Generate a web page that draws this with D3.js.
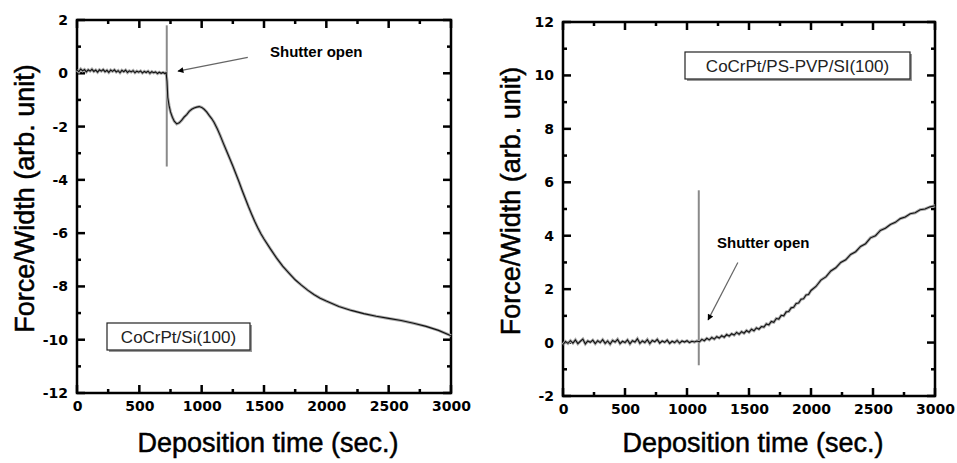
<!DOCTYPE html>
<meta charset="utf-8">
<title>Force/Width vs deposition time</title>
<style>

body {
  margin: 0;
  background: #fff;
}

.frame {
  fill: none;
  stroke: #000;
  stroke-width: 2.5px;
}

.domain {
  display: none;
}

.tick text {
  font: bold 14px "DejaVu Sans", sans-serif;
  fill: #000;
}

.title {
  font: 27px "Liberation Sans", Arial, sans-serif;
  fill: #000;
  stroke: #000;
  stroke-width: 0.5px;
}

.note {
  font: bold 15px "Liberation Sans", Arial, sans-serif;
  fill: #000;
}

.legend {
  font: 17px "Liberation Sans", Arial, sans-serif;
  fill: #222;
}

</style>
<body>
<script src="https://cdn.jsdelivr.net/npm/d3@7"></script>
<script>

// CoCrPt on Si(100): [time (s), force/width]
var siCurve = [
  [0, 0.12], [15, 0.06], [30, 0.16], [45, 0.09], [60, 0.14], [75, 0.05],
  [90, 0.13], [105, 0.08], [120, 0.15], [135, 0.07], [150, 0.12], [165, 0.04],
  [180, 0.13], [195, 0.08], [210, 0.14], [225, 0.06], [240, 0.11], [255, 0.03],
  [270, 0.12], [285, 0.07], [300, 0.13], [315, 0.05], [330, 0.1], [345, 0.02],
  [360, 0.11], [375, 0.06], [390, 0.12], [405, 0.03], [420, 0.09], [435, 0.05],
  [450, 0.1], [465, 0.02], [480, 0.08], [495, 0.04], [510, 0.09], [525, 0.01],
  [540, 0.07], [555, 0.03], [570, 0.08], [585, 0.0], [600, 0.06], [615, 0.02],
  [630, 0.05], [645, -0.01], [660, 0.04], [675, 0.0], [690, 0.03], [705, -0.01],
  [715, 0.02], [722, -0.3], [728, -0.9], [738, -1.2], [750, -1.45], [765, -1.65],
  [780, -1.8], [800, -1.9], [820, -1.86], [840, -1.76], [860, -1.64], [880, -1.55],
  [900, -1.43], [920, -1.35], [940, -1.3], [960, -1.27], [980, -1.25], [1000, -1.28],
  [1020, -1.35], [1040, -1.45], [1060, -1.58], [1080, -1.7], [1100, -1.85],
  [1125, -2.08], [1150, -2.35], [1175, -2.64], [1200, -2.92], [1225, -3.2],
  [1250, -3.48], [1275, -3.78], [1300, -4.08], [1325, -4.4], [1350, -4.7],
  [1375, -5.0], [1400, -5.28], [1425, -5.55], [1450, -5.8], [1475, -6.02],
  [1500, -6.22], [1550, -6.58], [1600, -6.93], [1650, -7.24], [1700, -7.5],
  [1750, -7.75], [1800, -7.95], [1850, -8.14], [1900, -8.3], [1950, -8.44],
  [2000, -8.55], [2100, -8.75], [2200, -8.9], [2300, -9.02], [2400, -9.12],
  [2500, -9.2], [2600, -9.28], [2700, -9.38], [2800, -9.5], [2900, -9.65], [3000, -9.85]
];

// CoCrPt on PS-PVP/Si(100)
var pvpCurve = [
  [0, -0.08], [20, 0.04], [40, -0.03], [60, 0.07], [80, -0.02], [100, 0.1],
  [120, -0.04], [140, 0.05], [160, 0.13], [180, -0.05], [200, 0.06], [220, 0.01],
  [240, 0.09], [260, -0.04], [280, 0.07], [300, 0.0], [320, 0.11], [340, -0.03],
  [360, 0.06], [380, -0.06], [400, 0.08], [420, 0.02], [440, 0.12], [460, -0.04],
  [480, 0.05], [500, 0.0], [520, 0.1], [540, -0.05], [560, 0.07], [580, 0.02],
  [600, 0.14], [620, -0.03], [640, 0.06], [660, 0.0], [680, 0.11], [700, -0.04],
  [720, 0.08], [740, 0.03], [760, 0.12], [780, -0.02], [800, 0.06], [820, 0.01],
  [840, 0.09], [860, -0.03], [880, 0.05], [900, 0.0], [920, 0.08], [940, -0.02],
  [960, 0.06], [980, 0.02], [1000, 0.07], [1020, 0.0], [1040, 0.05], [1060, 0.02],
  [1080, 0.06], [1100, 0.03], [1120, 0.12], [1140, 0.07], [1160, 0.16], [1180, 0.1],
  [1200, 0.19], [1220, 0.13], [1240, 0.22], [1260, 0.17], [1280, 0.26], [1300, 0.2],
  [1320, 0.3], [1340, 0.24], [1360, 0.33], [1380, 0.28], [1400, 0.38], [1420, 0.31],
  [1440, 0.41], [1460, 0.35], [1480, 0.45], [1500, 0.39], [1520, 0.5], [1540, 0.44],
  [1560, 0.55], [1580, 0.5], [1600, 0.6], [1620, 0.58], [1640, 0.7], [1660, 0.66],
  [1680, 0.79], [1700, 0.76], [1720, 0.9], [1740, 0.88], [1760, 1.02], [1780, 1.0],
  [1800, 1.15], [1820, 1.16], [1840, 1.3], [1860, 1.32], [1880, 1.46], [1900, 1.48],
  [1920, 1.62], [1940, 1.64], [1960, 1.78], [1980, 1.8], [2000, 1.95], [2040, 2.1],
  [2080, 2.34], [2120, 2.46], [2160, 2.68], [2200, 2.8], [2240, 3.0], [2280, 3.1],
  [2320, 3.3], [2360, 3.4], [2400, 3.6], [2440, 3.7], [2480, 3.92], [2520, 4.0],
  [2560, 4.2], [2600, 4.28], [2640, 4.42], [2680, 4.5], [2720, 4.64], [2760, 4.7],
  [2800, 4.82], [2840, 4.86], [2880, 4.97], [2920, 5.0], [2960, 5.08], [3000, 5.12]
];

var timeTicks = [0, 500, 1000, 1500, 2000, 2500, 3000],
    timeMinor = [250, 750, 1250, 1750, 2250, 2750],
    siTicks = [2, 0, -2, -4, -6, -8, -10, -12],
    siMinor = [1, -1, -3, -5, -7, -9, -11],
    pvpTicks = [12, 10, 8, 6, 4, 2, 0, -2],
    pvpMinor = [11, 9, 7, 5, 3, 1, -1];

// shutter marker: [time, from, to]; arrows: [tail t, tail f, head t, head f]
var siShutter = [720, 1.8, -3.5],
    pvpShutter = [1095, 5.7, -0.85],
    siArrow = [1370, 0.6, 810, 0.08],
    pvpArrow = [1410, 3.0, 1170, 0.85];

var width = 957,
    height = 463;

var svg = d3.select("body").append("svg")
    .attr("width", width)
    .attr("height", height);

svg.append("defs").append("marker")
    .attr("id", "head")
    .attr("viewBox", "0 0 10 10")
    .attr("refX", 9)
    .attr("refY", 5)
    .attr("markerWidth", 7)
    .attr("markerHeight", 5)
    .attr("orient", "auto")
  .append("path")
    .attr("d", "M0,0L10,5L0,10z")
    .attr("fill", "#000");

panel({
  left: 77, right: 451, top: 20, bottom: 393,
  yDomain: [-12, 2], yTicks: siTicks, yMinor: siMinor,
  data: siCurve, shutter: siShutter, arrow: siArrow,
  note: [270, 57], legend: "CoCrPt/Si(100)", box: [107, 323, 143, 27]
});

panel({
  left: 563, right: 935, top: 22, bottom: 396,
  yDomain: [-2, 12], yTicks: pvpTicks, yMinor: pvpMinor,
  data: pvpCurve, shutter: pvpShutter, arrow: pvpArrow,
  note: [717, 248], legend: "CoCrPt/PS-PVP/SI(100)", box: [685, 52, 225, 27]
});

function label(d) { return String(d); }

function panel(p) {
  var x = d3.scaleLinear().domain([0, 3000]).range([p.left, p.right]),
      y = d3.scaleLinear().domain(p.yDomain).range([p.bottom, p.top]);

  var g = svg.append("g");

  // tick labels only, from the axes
  g.append("g").attr("transform", "translate(0," + p.bottom + ")")
      .call(d3.axisBottom(x).tickValues(timeTicks).tickSize(0).tickPadding(8).tickFormat(label));
  g.append("g").attr("transform", "translate(" + p.left + ",0)")
      .call(d3.axisLeft(y).tickValues(p.yTicks).tickSize(0).tickPadding(9).tickFormat(label));

  // inward tick marks on all four sides, drawn as thin rects
  var marks = [];
  timeTicks.forEach(function(v) {
    marks.push([x(v) - 1.25, p.bottom - 8, 2.5, 8], [x(v) - 1.25, p.top, 2.5, 8]);
  });
  timeMinor.forEach(function(v) {
    marks.push([x(v) - 1.25, p.bottom - 4, 2.5, 4], [x(v) - 1.25, p.top, 2.5, 4]);
  });
  p.yTicks.forEach(function(v) {
    marks.push([p.left, y(v) - 1.25, 8, 2.5], [p.right - 8, y(v) - 1.25, 8, 2.5]);
  });
  p.yMinor.forEach(function(v) {
    marks.push([p.left, y(v) - 1.25, 4, 2.5], [p.right - 4, y(v) - 1.25, 4, 2.5]);
  });

  g.selectAll("rect.mark")
      .data(marks)
    .enter().append("rect")
      .attr("class", "mark")
      .attr("x", function(m) { return m[0]; })
      .attr("y", function(m) { return m[1]; })
      .attr("width", function(m) { return m[2]; })
      .attr("height", function(m) { return m[3]; })
      .attr("fill", "#000");

  g.append("rect")
      .attr("class", "frame")
      .attr("x", p.left)
      .attr("y", p.top)
      .attr("width", p.right - p.left)
      .attr("height", p.bottom - p.top);

  g.append("line")
      .attr("x1", x(p.shutter[0]))
      .attr("x2", x(p.shutter[0]))
      .attr("y1", y(p.shutter[1]))
      .attr("y2", y(p.shutter[2]))
      .attr("stroke", "#8a8a8a")
      .attr("stroke-width", 2);

  var line = d3.line()
      .x(function(d) { return x(d[0]); })
      .y(function(d) { return y(d[1]); });

  g.append("path")
      .datum(p.data)
      .attr("d", line)
      .attr("fill", "none")
      .attr("stroke", "#aaa")
      .attr("stroke-width", 3);

  g.append("path")
      .datum(p.data)
      .attr("d", line)
      .attr("fill", "none")
      .attr("stroke", "#111")
      .attr("stroke-width", 1.1);

  g.append("line")
      .attr("x1", x(p.arrow[0]))
      .attr("y1", y(p.arrow[1]))
      .attr("x2", x(p.arrow[2]))
      .attr("y2", y(p.arrow[3]))
      .attr("stroke", "#666")
      .attr("stroke-width", 1.2)
      .attr("marker-end", "url(#head)");

  g.append("text")
      .attr("class", "note")
      .attr("x", p.note[0])
      .attr("y", p.note[1])
      .text("Shutter open");

  // legend box with a soft shadow
  g.append("rect")
      .attr("x", p.box[0] + 2)
      .attr("y", p.box[1] + 2)
      .attr("width", p.box[2])
      .attr("height", p.box[3])
      .attr("fill", "#999");
  g.append("rect")
      .attr("x", p.box[0])
      .attr("y", p.box[1])
      .attr("width", p.box[2])
      .attr("height", p.box[3])
      .attr("fill", "#fff")
      .attr("stroke", "#222")
      .attr("stroke-width", 1.2);
  g.append("text")
      .attr("class", "legend")
      .attr("x", p.box[0] + p.box[2] / 2)
      .attr("y", p.box[1] + p.box[3] / 2 + 6)
      .attr("text-anchor", "middle")
      .text(p.legend);

  g.append("text")
      .attr("class", "title")
      .attr("x", (p.left + p.right) / 2 + 4)
      .attr("y", 452)
      .attr("text-anchor", "middle")
      .text("Deposition time (sec.)");

  g.append("text")
      .attr("class", "title")
      .attr("transform", "translate(" + (p.left - 43) + "," + ((p.top + p.bottom) / 2 - 8) + ")rotate(-90)")
      .attr("text-anchor", "middle")
      .text("Force/Width (arb. unit)");
}

</script>
